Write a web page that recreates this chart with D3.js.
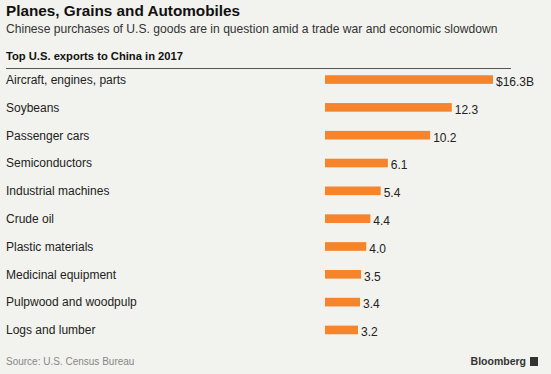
<!DOCTYPE html>
<html>
<head>
<meta charset="utf-8">
<script src="https://cdn.jsdelivr.net/npm/d3@7"></script>
<style>
  body { margin: 0; background: #f2f2ee; }
  svg { display: block; font-family: "Liberation Sans", Arial, sans-serif; }
</style>
</head>
<body>
<svg id="chart" width="551" height="374"></svg>
<script>
// data
const categories = ["Aircraft, engines, parts", "Soybeans", "Passenger cars", "Semiconductors",
    "Industrial machines", "Crude oil", "Plastic materials", "Medicinal equipment",
    "Pulpwood and woodpulp", "Logs and lumber"];
const values = [16.3, 12.3, 10.2, 6.1, 5.4, 4.4, 4.0, 3.5, 3.4, 3.2];
const valueLabels = ["$16.3B", "12.3", "10.2", "6.1", "5.4", "4.4", "4.0", "3.5", "3.4", "3.2"];

const rows = categories.map((c, i) => ({name: c, value: values[i], label: valueLabels[i]}));

const svg = d3.select("#chart");
const W = 551, H = 374;

svg.append("rect").attr("width", W).attr("height", H).attr("fill", "#f2f2ee");

// titles
svg.append("text").attr("x", 6).attr("y", 15.5)
    .attr("font-size", 15.3).attr("font-weight", "bold").attr("fill", "#111")
    .text("Planes, Grains and Automobiles");
svg.append("text").attr("x", 6).attr("y", 32.5)
    .attr("font-size", 12.1).attr("fill", "#333")
    .text("Chinese purchases of U.S. goods are in question amid a trade war and economic slowdown");
svg.append("text").attr("x", 6).attr("y", 59.5)
    .attr("font-size", 11.2).attr("font-weight", "bold").attr("fill", "#111")
    .text("Top U.S. exports to China in 2017");
svg.append("line").attr("x1", 6).attr("x2", 511).attr("y1", 68.5).attr("y2", 68.5)
    .attr("stroke", "#555").attr("stroke-width", 1);

// scales
const x = d3.scaleLinear().domain([0, 16.3]).range([325, 493]);
const y = d3.scaleBand().domain(categories).range([65.5, 344]).paddingInner(0.69).paddingOuter(0.35);

const g = svg.append("g");

g.selectAll(".bar")
    .data(rows)
    .enter().append("rect")
    .attr("class", "bar")
    .attr("x", x(0))
    .attr("y", d => y(d.name))
    .attr("width", d => x(d.value) - x(0))
    .attr("height", y.bandwidth())
    .attr("fill", "#f5842a");

g.selectAll(".cat")
    .data(rows)
    .enter().append("text")
    .attr("class", "cat")
    .attr("x", 6)
    .attr("y", d => y(d.name) + y.bandwidth() / 2)
    .attr("dy", "0.36em")
    .attr("font-size", 12)
    .attr("fill", "#222")
    .text(d => d.name);

g.selectAll(".val")
    .data(rows)
    .enter().append("text")
    .attr("class", "val")
    .attr("x", d => x(d.value) + 3)
    .attr("y", d => y(d.name) + y.bandwidth() / 2 + 2)
    .attr("dy", "0.36em")
    .attr("font-size", 12)
    .attr("fill", "#222")
    .text(d => d.label);

// footer
svg.append("text").attr("x", 6).attr("y", 365)
    .attr("font-size", 10).attr("fill", "#888")
    .text("Source: U.S. Census Bureau");
svg.append("text").attr("x", 526).attr("y", 365)
    .attr("font-size", 10.5).attr("font-weight", "bold").attr("fill", "#333")
    .attr("text-anchor", "end")
    .text("Bloomberg");
svg.append("rect").attr("x", 530).attr("y", 357).attr("width", 8).attr("height", 9)
    .attr("fill", "#333");
</script>
</body>
</html>
